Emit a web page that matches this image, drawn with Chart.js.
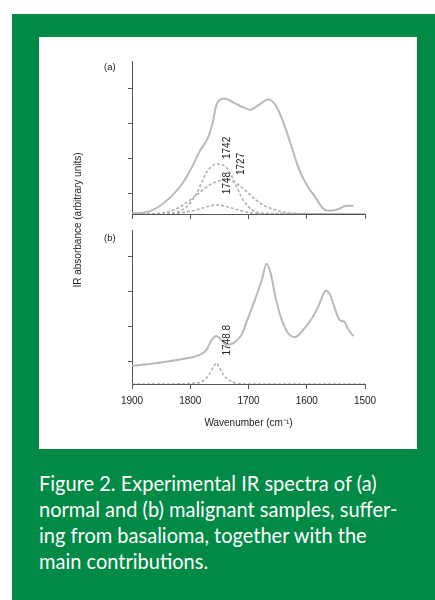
<!DOCTYPE html>
<html>
<head>
<meta charset="utf-8">
<script src="https://cdn.jsdelivr.net/npm/chart.js@4.4.1/dist/chart.umd.min.js"></script>
<style>
  body { margin: 0; width: 435px; height: 600px; background: #fff; position: relative; overflow: hidden; font-family: "Liberation Sans", Arial, sans-serif; }
  #frame { position: absolute; left: 12px; top: 14px; width: 423px; height: 586px; background: #008a45; }
  #panel { position: absolute; left: 39px; top: 37px; width: 378px; height: 412px; background: #fff; }
  canvas { position: absolute; left: 0; }
  #chartA { top: 0; }
  #chartB { top: 190px; }
  .tag { position: absolute; font-size: 9.5px; color: #222; }
  #yTitle { position: absolute; left: 38px; top: 183px; width: 0; height: 0; }
  #yTitle span { position: absolute; white-space: nowrap; font-size: 10px; color: #222; transform: translate(-50%, -50%) rotate(-90deg); }
  #caption { position: absolute; left: 39px; top: 470px; color: #fff; font-family: Lato, sans-serif; font-size: 22px; line-height: 26px; white-space: nowrap; transform: scaleX(0.91); transform-origin: 0 0; }
</style>
</head>
<body>
<div id="frame"></div>
<div id="panel">
  <canvas id="chartA" width="378" height="190"></canvas>
  <canvas id="chartB" width="378" height="222"></canvas>
  <div class="tag" style="left:65px; top:24px;">(a)</div>
  <div class="tag" style="left:65px; top:195px;">(b)</div>
  <div id="yTitle"><span>IR absorbance (arbitrary units)</span></div>
</div>
<div id="caption">Figure 2. Experimental IR spectra of (a)<br>normal and (b) malignant samples, suffer-<br>ing from basalioma, together with the<br>main contributions.</div>

<script>
// x axis (wavenumber, cm-1)
const xTicks = [1900, 1800, 1700, 1600, 1500];
const yTicksA = [0.6, 1.6, 2.6, 3.6];
const yTicksB = [0.66, 1.66, 2.66, 3.66];

// (a) normal sample - measured spectrum
const normalWn  = [1900, 1878, 1864, 1850, 1833, 1815, 1798, 1784, 1770, 1761, 1755, 1741, 1724, 1707, 1697, 1683, 1666, 1654, 1643, 1629, 1614, 1600, 1586, 1572, 1563, 1549, 1531, 1520];
const normalAbs = [0.02, 0.04, 0.12, 0.26, 0.50, 0.84, 1.32, 1.80, 2.18, 2.66, 3.14, 3.32, 3.19, 3.05, 3.00, 3.13, 3.29, 3.14, 2.76, 2.09, 1.32, 0.84, 0.50, 0.16, 0.09, 0.12, 0.24, 0.23];

// (a) fitted contributions
const c1742Wn  = [1900, 1834, 1806, 1789, 1771, 1754, 1737, 1723, 1709, 1694, 1674, 1500];
const c1742Abs = [0, 0.02, 0.21, 0.60, 1.22, 1.44, 1.32, 0.88, 0.40, 0.12, 0.02, 0];
const c1727Wn  = [1900, 1851, 1817, 1789, 1766, 1749, 1734, 1720, 1703, 1680, 1651, 1623, 1500];
const c1727Abs = [0, 0.02, 0.21, 0.55, 0.84, 0.96, 0.98, 0.87, 0.64, 0.31, 0.10, 0.02, 0];
const c1748Wn  = [1900, 1834, 1794, 1771, 1755, 1737, 1714, 1686, 1500];
const c1748Abs = [0, 0.01, 0.10, 0.21, 0.26, 0.21, 0.10, 0.01, 0];

// (b) malignant sample - measured spectrum
const malignWn  = [1900, 1850, 1816, 1784, 1772, 1764, 1755, 1747, 1738, 1727, 1712, 1703, 1689, 1677, 1669, 1662, 1654, 1643, 1632, 1620, 1606, 1591, 1580, 1567, 1560, 1551, 1543, 1536, 1529, 1520];
const malignAbs = [0.52, 0.62, 0.71, 0.84, 0.98, 1.25, 1.38, 1.27, 1.13, 1.17, 1.41, 1.80, 2.42, 3.00, 3.46, 3.19, 2.52, 1.85, 1.46, 1.35, 1.56, 1.89, 2.23, 2.69, 2.57, 2.13, 1.83, 1.80, 1.58, 1.38];

// (b) fitted contribution
const c1748_8Wn  = [1900, 1851, 1794, 1777, 1767, 1761, 1755, 1750, 1743, 1734, 1720, 1703, 1500];
const c1748_8Abs = [0, 0, 0.02, 0.10, 0.29, 0.47, 0.60, 0.47, 0.26, 0.12, 0.02, 0, 0];

// peak labels
const labelsA = ['1742', '1727', '1748'];
const labelWnA = [1737, 1713, 1737];
const labelAbsA = [1.90, 1.44, 0.89];
const labelsB = ['1748.8'];
const labelWnB = [1737];
const labelAbsB = [1.26];

const toPoints = (xs, ys) => xs.map((x, i) => ({ x: x, y: ys[i] }));

const axisColor = '#555';
const solidColor = '#b9b9b9';
const dashColor = '#b0b0b0';
const textFont = '"Liberation Sans", Arial, sans-serif';

function solidSet(xs, ys) {
  return { data: toPoints(xs, ys), borderColor: solidColor, borderWidth: 2, pointRadius: 0, cubicInterpolationMode: 'monotone', fill: false };
}
function dashSet(xs, ys) {
  return { data: toPoints(xs, ys), borderColor: dashColor, borderWidth: 1.6, borderDash: [3, 2], pointRadius: 0, cubicInterpolationMode: 'monotone', fill: false };
}

// draws rotated peak labels at data coordinates
const peakLabels = {
  id: 'peakLabels',
  afterDatasetsDraw(chart, args, opts) {
    const ctx = chart.ctx;
    const x = chart.scales.x, y = chart.scales.y;
    ctx.save();
    ctx.font = '10px ' + textFont;
    ctx.fillStyle = '#222';
    ctx.textAlign = 'center';
    ctx.textBaseline = 'middle';
    opts.texts.forEach((t, i) => {
      ctx.save();
      ctx.translate(x.getPixelForValue(opts.wn[i]), y.getPixelForValue(opts.abs[i]));
      ctx.rotate(-Math.PI / 2);
      ctx.fillText(t, 0, 0);
      ctx.restore();
    });
    ctx.restore();
  }
};

function makeOptions(yTicks, yMax, labels, pad, xHeight, showX) {
  return {
    responsive: false,
    animation: false,
    layout: { padding: pad },
    plugins: {
      legend: { display: false },
      tooltip: { enabled: false },
      peakLabels: labels
    },
    scales: {
      x: {
        type: 'linear',
        reverse: true,
        min: 1500,
        max: 1900,
        afterBuildTicks: s => { s.ticks = xTicks.map(v => ({ value: v })); },
        afterFit: s => { s.height = xHeight; },
        grid: { drawOnChartArea: false, drawTicks: true, tickLength: 5, color: axisColor, tickWidth: 1 },
        border: { display: true, color: axisColor, width: 1 },
        ticks: { display: showX, color: '#222', font: { family: textFont, size: 10 }, padding: 6, maxRotation: 0, callback: v => String(v) },
        title: { display: showX, text: 'Wavenumber (cm\u207B\u00B9)', color: '#222', font: { family: textFont, size: 10 }, padding: 0 }
      },
      y: {
        min: 0,
        max: yMax,
        afterBuildTicks: s => { s.ticks = yTicks.map(v => ({ value: v })); },
        afterFit: s => { s.width = 0; },
        grid: { drawOnChartArea: false, drawTicks: true, tickLength: 4, color: axisColor, tickWidth: 1 },
        border: { display: true, color: axisColor, width: 1 },
        ticks: { display: false }
      }
    }
  };
}

const optsA = makeOptions(yTicksA, 4.4, { texts: labelsA, wn: labelWnA, abs: labelAbsA },
  { left: 93, right: 52, top: 24, bottom: 13 }, 0, false);
const optsB = makeOptions(yTicksB, 4.43, { texts: labelsB, wn: labelWnB, abs: labelAbsB },
  { left: 93, right: 52, top: 3, bottom: 20 }, 45, true);

new Chart(document.getElementById('chartA'), {
  type: 'line',
  data: {
    datasets: [
      dashSet(c1748Wn, c1748Abs),
      dashSet(c1727Wn, c1727Abs),
      dashSet(c1742Wn, c1742Abs),
      solidSet(normalWn, normalAbs)
    ]
  },
  options: optsA,
  plugins: [peakLabels]
});

new Chart(document.getElementById('chartB'), {
  type: 'line',
  data: {
    datasets: [
      dashSet(c1748_8Wn, c1748_8Abs),
      solidSet(malignWn, malignAbs)
    ]
  },
  options: optsB,
  plugins: [peakLabels]
});
</script>
</body>
</html>
